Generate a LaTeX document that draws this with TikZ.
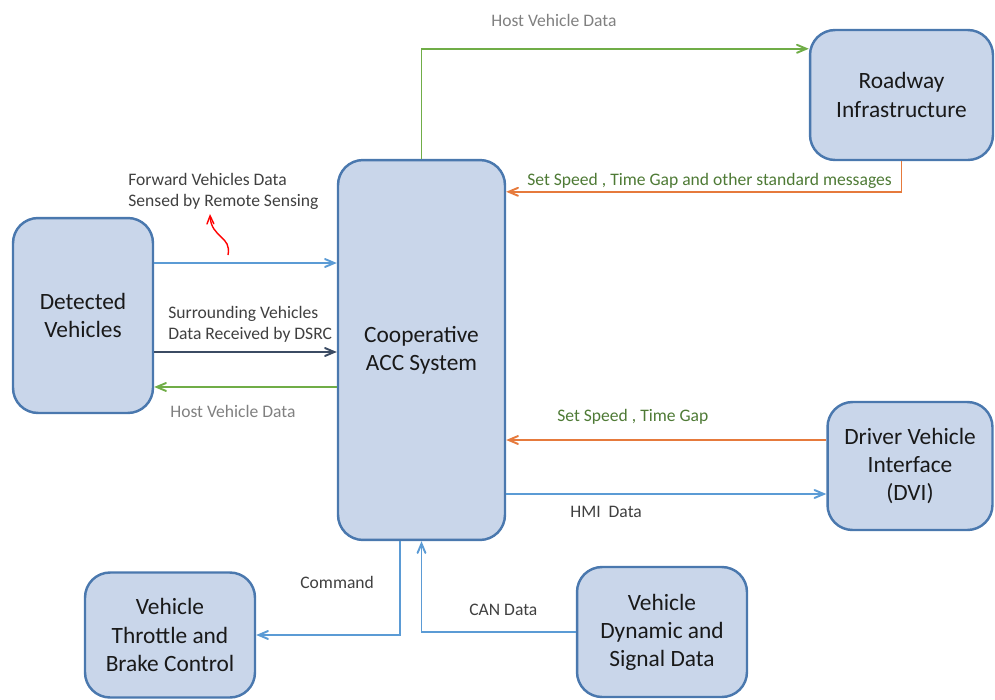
\documentclass[tikz,border=0pt]{standalone}
\usepackage{fontspec}
\setmainfont{Carlito}
\usepackage{tikz}
\usetikzlibrary{positioning, calc, arrows}
\tikzset{>=angle 45}
\definecolor{boxfill}{HTML}{C9D6EA}
\definecolor{boxline}{HTML}{4A78AE}
\definecolor{datablue}{HTML}{5B9BD5}
\definecolor{hostgreen}{HTML}{70AD47}
\definecolor{setorange}{HTML}{E67A3C}
\definecolor{dsrcdark}{HTML}{3B4B63}
\definecolor{setgreen}{HTML}{4E7A35}
\definecolor{hostgray}{HTML}{808080}
\definecolor{darktext}{HTML}{404040}

\begin{document}
\begin{tikzpicture}
    [x=0.02cm, y=-0.02cm,
     box/.style={draw=boxline, fill=boxfill, line width=1.4pt, rounded corners=0.5cm,
                 align=center, font=\fontsize{13.3}{16}\selectfont, text=black!90},
     lbl/.style={font=\fontsize{10}{12}\selectfont, text=darktext, inner sep=0pt, anchor=west},
     dataline/.style={draw=datablue, line width=1.1pt},
     hostline/.style={draw=hostgreen, line width=1.1pt},
     setline/.style={draw=setorange, line width=1.1pt},
     dsrcline/.style={draw=dsrcdark, line width=1.1pt}]
    \useasboundingbox (0,0) rectangle (995,700);

    \node[box, minimum width=3.34cm, minimum height=7.6cm] (acc) at (421.5,350) {Cooperative\\ACC System};
    \node[box, minimum width=3.66cm, minimum height=2.6cm] (road) at (901.5,95) {Roadway\\Infrastructure};
    \node[box, minimum width=2.8cm, minimum height=3.9cm] (det) at (83,315.5) {Detected\\Vehicles};
    \node[box, minimum width=3.3cm, minimum height=2.56cm] (dvi) at (910,466) {Driver Vehicle\\Interface\\(DVI)};
    \node[box, minimum width=3.4cm, minimum height=2.5cm] (thr) at (170,635) {Vehicle\\Throttle and\\Brake Control};
    \node[box, minimum width=3.4cm, minimum height=2.6cm] (dyn) at (662,632) {Vehicle\\Dynamic and\\Signal Data};

    % roadway infrastructure
    \draw[hostline, ->] (acc.north) |- ([yshift=-0.4cm]road.north west);
    \node[lbl, text=hostgray] at (491,20) {Host Vehicle Data};
    \draw[setline, ->] (road.south) |- ([yshift=-0.66cm]acc.north east);
    \node[lbl, text=setgreen] at (527,181) {Set Speed , Time Gap and other standard messages};

    % detected vehicles
    \coordinate (fwd) at ([yshift=1.05cm]det.east);
    \coordinate (dsrc) at ([yshift=-0.73cm]det.east);
    \coordinate (host) at ([yshift=-1.43cm]det.east);
    \draw[dataline, ->] (fwd) -- (fwd -| acc.west);
    \draw[dsrcline, ->] (dsrc) -- (dsrc -| acc.west);
    \draw[hostline, <-] (host) -- (host -| acc.west);
    \node[lbl, align=left, anchor=north west] (fwdlbl) at (128,173) {Forward Vehicles Data\\Sensed by Remote Sensing};
    \node[lbl, align=left, anchor=south west] at (168,343) {Surrounding Vehicles\\Data Received by DSRC};
    \node[lbl, text=hostgray] at (170,411) {Host Vehicle Data};
    \coordinate (curl) at (228,255);
    \draw[red, line width=0.8pt, ->] (curl) .. controls (232,236) and (211,238) .. (210,214);

    % driver vehicle interface
    \coordinate (speed) at ([yshift=0.52cm]dvi.west);
    \coordinate (hmi) at ([yshift=-0.56cm]dvi.west);
    \draw[setline, ->] (speed) -- (speed -| acc.east);
    \draw[dataline, <-] (hmi) -- (hmi -| acc.east);
    \node[lbl, text=setgreen] at (557,417) {Set Speed , Time Gap};
    \node[lbl] at (570,512) {HMI\ \ Data};

    % vehicle control
    \draw[dataline, ->] ([xshift=-0.43cm]acc.south) |- (thr.east);
    \draw[dataline, ->] (dyn.west) -| (acc.south);
    \node[lbl] at (300,582) {Command};
    \node[lbl] at (469,610) {CAN Data};
\end{tikzpicture}
\end{document}
